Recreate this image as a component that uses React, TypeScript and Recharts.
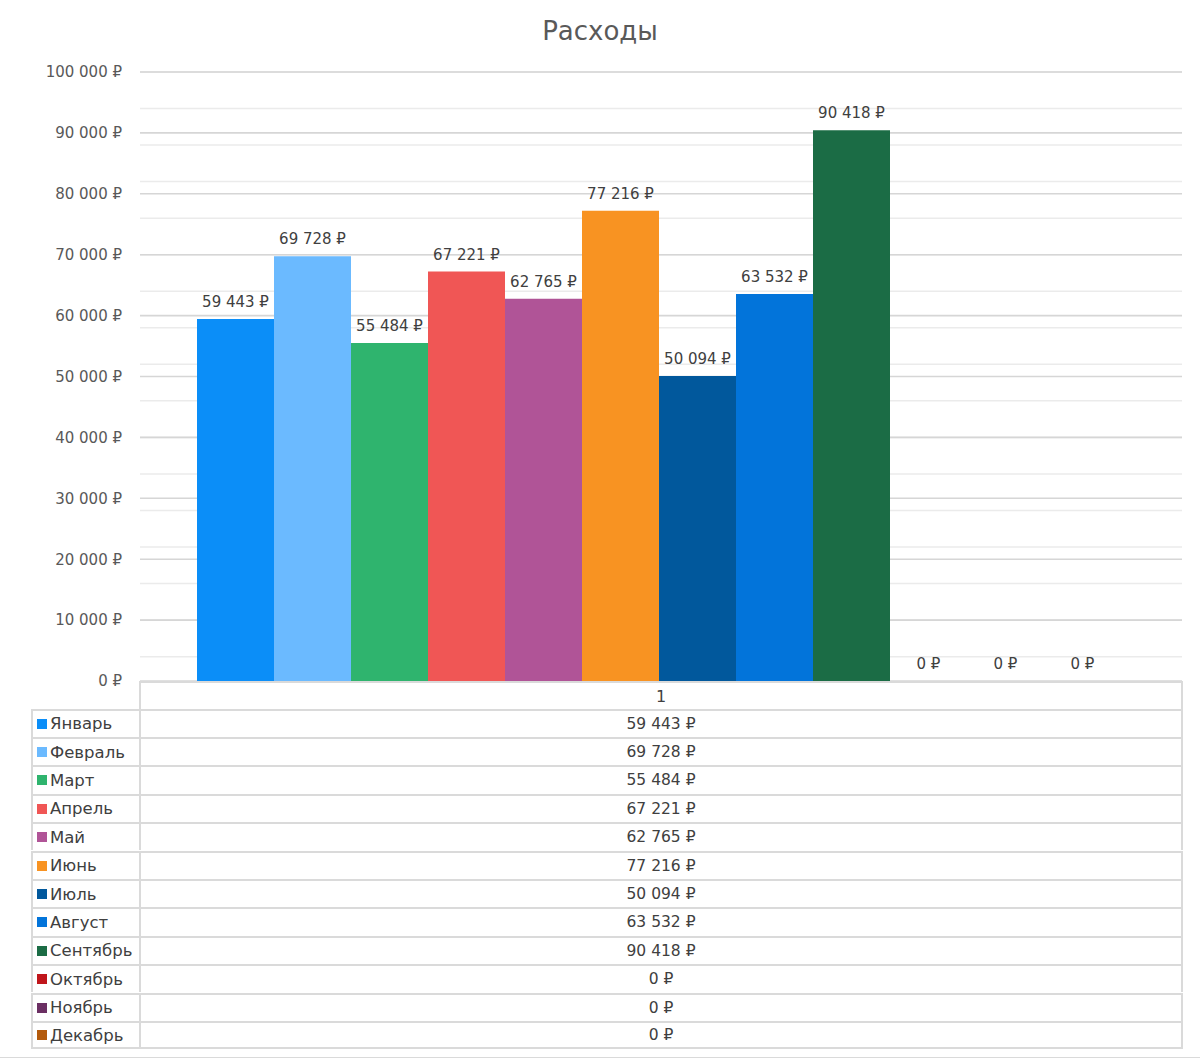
import React from 'react';
import { BarChart, Bar, XAxis, YAxis, CartesianGrid, LabelList } from 'recharts';

const title = 'Расходы';
const category = '1';
const months = ['Январь', 'Февраль', 'Март', 'Апрель', 'Май', 'Июнь', 'Июль', 'Август', 'Сентябрь', 'Октябрь', 'Ноябрь', 'Декабрь'];
const values = [59443, 69728, 55484, 67221, 62765, 77216, 50094, 63532, 90418, 0, 0, 0];
const colors = ['#0b8ef8', '#6bbaff', '#2fb46e', '#f05655', '#b05497', '#f89322', '#01589c', '#0274da', '#1b6c45', '#c0161b', '#6b2f63', '#b35a0c'];
const majorTicks = [0, 10000, 20000, 30000, 40000, 50000, 60000, 70000, 80000, 90000, 100000];
const minorTicks = [0, 2000, 4000, 6000, 8000, 10000, 12000, 14000, 16000, 18000, 20000, 22000, 24000, 26000, 28000, 30000, 32000, 34000, 36000, 38000, 40000, 42000, 44000, 46000, 48000, 50000, 52000, 54000, 56000, 58000, 60000, 62000, 64000, 66000, 68000, 70000, 72000, 74000, 76000, 78000, 80000, 82000, 84000, 86000, 88000, 90000, 92000, 94000, 96000, 98000, 100000];

const fmt = (v: number) => String(v).replace(/\B(?=(\d{3})+(?!\d))/g, '\u00a0') + '\u00a0₽';

const row: Record<string, string | number> = { cat: category };
months.forEach((m, i) => { row[m] = values[i]; });
const chartData = [row];

const FONT = '"DejaVu Sans", "Noto Sans", sans-serif';
const PLOT_LEFT = 140;
const PLOT_RIGHT = 1182;
const PLOT_BOTTOM = 681;
const HEADER_H = 27.5;
const ROW_H = 28.4;
const TABLE_LEFT = 31;
const BORDER = '2px solid #dadada';

export default function App() {
  return (
    <div style={{ position: 'absolute', left: 0, top: 0, width: 1200, height: 1060, background: '#fff', fontFamily: FONT, overflow: 'hidden' }}>
      <div style={{ position: 'absolute', left: 0, top: 16, width: 1200, textAlign: 'center', fontSize: 26, color: '#595959' }}>{title}</div>
      <div style={{ position: 'absolute', left: 0, top: 0 }}>
        <BarChart
          width={1200}
          height={700}
          data={chartData}
          margin={{ top: 72, right: 1200 - PLOT_RIGHT, bottom: 700 - PLOT_BOTTOM, left: 0 }}
          barGap={0}
          barCategoryGap={57}
        >
          <CartesianGrid vertical={false} horizontalValues={minorTicks} stroke="#ebebeb" strokeWidth={1.5} />
          <CartesianGrid vertical={false} horizontalValues={majorTicks} stroke="#d6d6d6" strokeWidth={1.6} />
          <XAxis dataKey="cat" hide />
          <YAxis
            width={PLOT_LEFT}
            domain={[0, 100000]}
            ticks={majorTicks}
            tickFormatter={fmt}
            axisLine={false}
            tickLine={false}
            tickSize={0}
            tickMargin={18}
            tick={{ fill: '#595959', fontSize: 15 }}
          />
          {months.map((m, i) => (
            <Bar key={m} dataKey={m} fill={colors[i]} minPointSize={0.01} isAnimationActive={false}>
              <LabelList dataKey={m} position="top" offset={12} formatter={(v: number) => fmt(v)} fill="#404040" fontSize={15} />
            </Bar>
          ))}
        </BarChart>
      </div>
      {/* data table */}
      <div style={{ position: 'absolute', left: PLOT_LEFT - 1, top: PLOT_BOTTOM, width: PLOT_RIGHT - PLOT_LEFT + 2, height: HEADER_H, borderLeft: BORDER, borderRight: BORDER, borderTop: BORDER, boxSizing: 'border-box', textAlign: 'center', fontSize: 16, color: '#404040', lineHeight: HEADER_H + 'px' }}>{category}</div>
      {months.map((m, i) => {
        const top = PLOT_BOTTOM + HEADER_H + i * ROW_H;
        return (
          <React.Fragment key={m}>
            <div style={{ position: 'absolute', left: TABLE_LEFT, top, width: PLOT_LEFT - 1 - TABLE_LEFT, height: ROW_H, borderLeft: BORDER, borderTop: BORDER, borderBottom: i === months.length - 1 ? BORDER : undefined, boxSizing: 'border-box', display: 'flex', alignItems: 'center', fontSize: 16.5, color: '#404040', whiteSpace: 'nowrap' }}>
              <span style={{ display: 'inline-block', width: 10, height: 10, background: colors[i], marginLeft: 4, marginRight: 3 }} />
              <span>{m}</span>
            </div>
            <div style={{ position: 'absolute', left: PLOT_LEFT - 1, top, width: PLOT_RIGHT - PLOT_LEFT + 2, height: ROW_H, borderLeft: BORDER, borderRight: BORDER, borderTop: BORDER, borderBottom: i === months.length - 1 ? BORDER : undefined, boxSizing: 'border-box', display: 'flex', alignItems: 'center', justifyContent: 'center', fontSize: 15.5, color: '#404040' }}>
              {fmt(values[i])}
            </div>
          </React.Fragment>
        );
      })}
      <div style={{ position: 'absolute', left: 0, top: 1057, width: 1200, height: 0, borderTop: '1px solid #dadada' }} />
    </div>
  );
}
